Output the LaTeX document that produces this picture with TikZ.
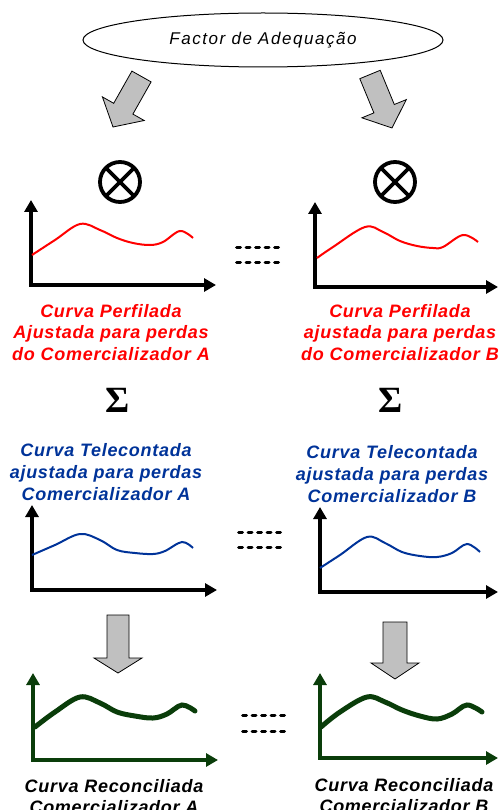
\documentclass[tikz,border=0pt]{standalone}
\usepackage{fontspec}
\setmainfont{Liberation Sans}
\newfontfamily\labfont[LetterSpace=4]{Liberation Sans}
\newfontfamily\titfont[LetterSpace=9]{Liberation Sans}
\newfontfamily\sigfont{Liberation Serif}
\usetikzlibrary{arrows.meta,shapes.geometric}
\definecolor{cred}{RGB}{255,0,0}
\definecolor{cblue}{RGB}{0,51,153}
\definecolor{cgreen}{RGB}{10,61,10}
\definecolor{agray}{RGB}{192,192,192}
\begin{document}
\begin{tikzpicture}[x=1pt,y=-1pt,
  axis/.style={line width=4pt, line join=miter, {Triangle[length=12pt,width=13pt]}-{Triangle[length=12pt,width=13pt]}},
  fat/.style={draw=black, line width=0.8pt, fill=agray, line join=miter},
  dashpair/.style={line width=3pt, line cap=round, dash pattern=on 4pt off 5.5pt},
  lab/.style={font=\labfont\bfseries\itshape\fontsize{18}{21.5}\selectfont, align=center, inner sep=0pt, anchor=north},
  labb/.style={font=\labfont\bfseries\itshape\fontsize{18}{22}\selectfont, align=center, inner sep=0pt, anchor=north},
  otimes/.style={circle, draw, line width=3.8pt, minimum size=40pt, inner sep=0pt,
    path picture={\draw[line width=3.8pt] (path picture bounding box.north west) -- (path picture bounding box.south east)
      (path picture bounding box.north east) -- (path picture bounding box.south west);}},
  sig/.style={font=\sigfont\bfseries\fontsize{37}{37}\selectfont, inner sep=0pt}]
\useasboundingbox (0,0) rectangle (499,810);

% ellipse
\node[ellipse, draw, line width=1pt, minimum width=360pt, minimum height=54pt, inner sep=0pt,
  font=\titfont\itshape\fontsize{17}{20}\selectfont] (fa) at (263,40) {Factor de Adequação};

% diagonal fat arrows
\draw[fat] (131.9,71.1) -- (151.1,81.9) -- (132.9,114.1) -- (144.2,120.5) -- (113,127) -- (102.4,96.9) -- (113.7,103.3) -- cycle;
\draw[fat] (359.8,78.7) -- (380.2,70.3) -- (394.3,104.5) -- (406.3,99.6) -- (392,128) -- (361.9,117.8) -- (373.9,112.9) -- cycle;

% otimes
\node[otimes] (mA) at (120,182) {};
\node[otimes] (mB) at (395,182) {};

% red graphs
\draw[axis] (31,200) -- (31,285) -- (216,285);
\draw[cred, line width=2pt] plot[smooth, tension=0.6] coordinates {(32,255) (55,240) (80,224) (100,230) (117,238) (133,243) (150,245) (163,242) (180,231) (193,238)};
\draw[axis] (315,202) -- (315,287) -- (498,287);
\draw[cred, line width=2pt] plot[smooth, tension=0.6] coordinates {(317,258) (333,247) (365,227) (383,232) (400,241) (417,246) (433,248) (443,247) (463,235) (478,242)};

% dashes top
\coordinate (d1a) at (236.5,247); \coordinate (d1b) at (278.5,247);
\coordinate (d2a) at (236.5,262); \coordinate (d2b) at (278.5,262);
\draw[dashpair] (d1a) -- (d1b);
\draw[dashpair] (d2a) -- (d2b);

% red labels
\node[lab, text=cred] (tA) at (111,303.9) {Curva Perfilada\\Ajustada para perdas\\do Comercializador\hspace{6pt}A};
\node[lab, text=cred] (tB) at (400,303.9) {Curva Perfilada\\ajustada para perdas\\do Comercializador\hspace{6pt}B};

% sigma
\node[sig] (sA) at (118,400) {Σ};
\node[sig] (sB) at (391,400) {Σ};

% blue labels
\node[labb, text=cblue] (uA) at (106,442.9) {Curva Telecontada\\ajustada para perdas\\Comercializador A};
\node[labb, text=cblue] (uB) at (392,444.9) {Curva Telecontada\\ajustada para perdas\\Comercializador B};

% blue graphs
\draw[axis] (32,505) -- (32,590) -- (217,590);
\draw[cblue, line width=2pt] plot[smooth, tension=0.6] coordinates {(32,555) (55,545) (80,534) (100,540) (117,550) (135,553) (153,554) (165,551) (182,542) (193,548)};
\draw[axis] (320,507) -- (320,592) -- (498,592);
\draw[cblue, line width=2pt] plot[smooth, tension=0.6] coordinates {(320,568) (340,555) (367,537) (385,543) (402,552) (420,556) (437,557) (452,553) (467,544) (480,552)};

% dashes middle
\coordinate (d3a) at (238.5,532); \coordinate (d3b) at (280.5,532);
\coordinate (d4a) at (238.5,547); \coordinate (d4b) at (280.5,547);
\draw[dashpair] (d3a) -- (d3b);
\draw[dashpair] (d4a) -- (d4b);

% down fat arrows
\draw[fat] (107,615) -- (129,615) -- (129,658) -- (142,658) -- (118,673) -- (94,658) -- (107,658) -- cycle;
\draw[fat] (383,622) -- (407,622) -- (407,663) -- (419,663) -- (395,679) -- (371,663) -- (383,663) -- cycle;

% green graphs
\draw[axis, cgreen] (33,673) -- (33,760) -- (218,760);
\draw[cgreen, line width=5pt, line cap=round] plot[smooth, tension=0.6] coordinates {(35,727) (55,712) (80,697) (100,703) (117,712) (135,716) (153,718) (167,714) (182,705) (195,711)};
\draw[axis, cgreen] (320,673) -- (320,758) -- (498,758);
\draw[cgreen, line width=5pt, line cap=round] plot[smooth, tension=0.6] coordinates {(321,727) (340,712) (367,697) (385,702) (402,710) (420,716) (437,719) (452,714) (467,705) (482,712)};

% dashes bottom
\coordinate (d5a) at (242.5,715); \coordinate (d5b) at (284.5,715);
\coordinate (d6a) at (242.5,731); \coordinate (d6b) at (284.5,731);
\draw[dashpair] (d5a) -- (d5b);
\draw[dashpair] (d6a) -- (d6b);

% black labels
\node[lab, text=black] (rA) at (114,778.9) {Curva Reconciliada\\Comercializador A};
\node[lab, text=black] (rB) at (404,777.9) {Curva Reconciliada\\Comercializador B};
\end{tikzpicture}
\end{document}
